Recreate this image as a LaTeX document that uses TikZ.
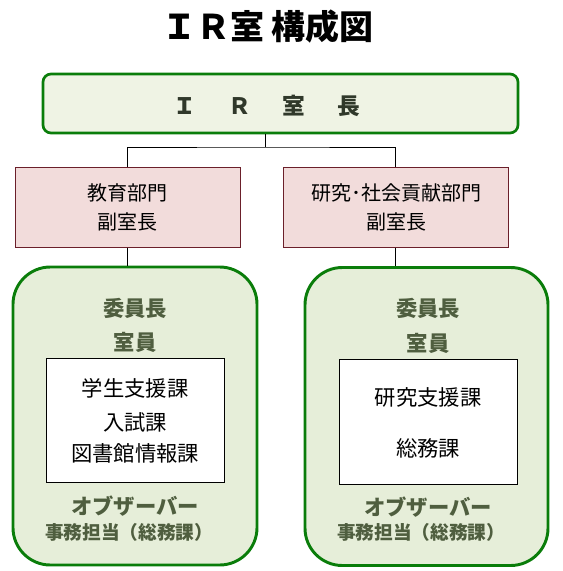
\documentclass[tikz,border=0pt]{standalone}
\usepackage{fontspec}
\setmainfont{Noto Sans CJK JP}
\definecolor{gborder}{HTML}{0A7D0A}
\definecolor{topfill}{HTML}{EFF3E4}
\definecolor{gfill}{HTML}{E6EED9}
\definecolor{pfill}{HTML}{F2DCDB}
\definecolor{pborder}{HTML}{6B1F2A}
\definecolor{otext}{HTML}{4F5E3F}
\definecolor{dtext}{HTML}{30382A}
\begin{document}
\begin{tikzpicture}[x=0.75pt,y=-0.75pt,
  topbox/.style={draw=gborder,fill=topfill,line width=2pt,rounded corners=6pt,
    minimum width=475*0.75pt,minimum height=59*0.75pt,inner sep=0pt},
  pinkbox/.style={draw=pborder,fill=pfill,line width=0.75pt,
    minimum width=225*0.75pt,minimum height=80*0.75pt,inner sep=0pt},
  greenbox/.style={draw=gborder,fill=gfill,line width=2.2pt,rounded corners=28pt,
    minimum height=298*0.75pt,inner sep=0pt},
  whitebox/.style={draw=black,fill=white,line width=0.75pt,
    minimum width=178*0.75pt,inner sep=0pt},
  ptext/.style={font=\fontsize{15pt}{17pt}\selectfont,inner sep=0pt},
  wtext/.style={font=\fontsize{16pt}{18pt}\selectfont,inner sep=0pt},
  gtext/.style={font=\bfseries\fontsize{16pt}{18pt}\selectfont,text=otext,inner sep=0pt},
  gsmall/.style={font=\bfseries\fontsize{14pt}{17pt}\selectfont,text=otext,inner sep=0pt},
  conn/.style={draw=black,line width=0.75pt}]
\useasboundingbox (0,0) rectangle (563,571);
\node[font=\bfseries\fontsize{25.5pt}{29pt}\selectfont] (title) at (268,27) {ＩＲ室 構成図};
\node[topbox] (ir) at (280.5,103.5) {};
\node[font=\bfseries\fontsize{17pt}{20pt}\selectfont,text=dtext,inner sep=0pt] (irt) at (267,106)
  {Ｉ\hspace{24pt}Ｒ\hspace{24pt}室\hspace{24pt}長};
\node[pinkbox] (edu) at (127.5,207) {};
\node[pinkbox] (res) at (395.5,207) {};
\node[ptext] (edu1) at (127.5,193) {教育部門};
\node[ptext] (edu2) at (127.5,222) {副室長};
\node[ptext] (res1) at (396,193) {研究･社会貢献部門};
\node[ptext] (res2) at (396,222) {副室長};
\node[greenbox,minimum width=244*0.75pt] (eg) at (135,416) {};
\node[greenbox,minimum width=243*0.75pt] (rg) at (426.5,416.5) {};
\node[whitebox,minimum height=124*0.75pt] (ew) at (135,420) {};
\node[whitebox,minimum height=125*0.75pt] (rw) at (428,421.5) {};
\node[gtext] (e1) at (135,308) {委員長};
\node[gtext] (e2) at (135,342) {室員};
\node[gtext] (e3) at (135,506) {オブザーバー};
\node[gsmall] (e4) at (129,532) {事務担当（総務課）};
\node[gtext] (r1) at (428,308) {委員長};
\node[gtext] (r2) at (428,343) {室員};
\node[gtext] (r3) at (428,507) {オブザーバー};
\node[gsmall] (r4) at (421,532) {事務担当（総務課）};
\node[wtext] (ew1) at (135,388) {学生支援課};
\node[wtext] (ew2) at (135,422) {入試課};
\node[wtext] (ew3) at (135,453) {図書館情報課};
\node[wtext] (rw1) at (428,397) {研究支援課};
\node[wtext] (rw2) at (428,448) {総務課};
\coordinate (j) at (265,147);
\draw[conn] (ir.south -| j) -- (j);
\draw[conn] (edu.north) |- (j) -| (res.north);
\draw[conn] (edu.south) -- (edu.south |- eg.north);
\draw[conn] (res.south) -- (res.south |- rg.north);
\end{tikzpicture}
\end{document}
